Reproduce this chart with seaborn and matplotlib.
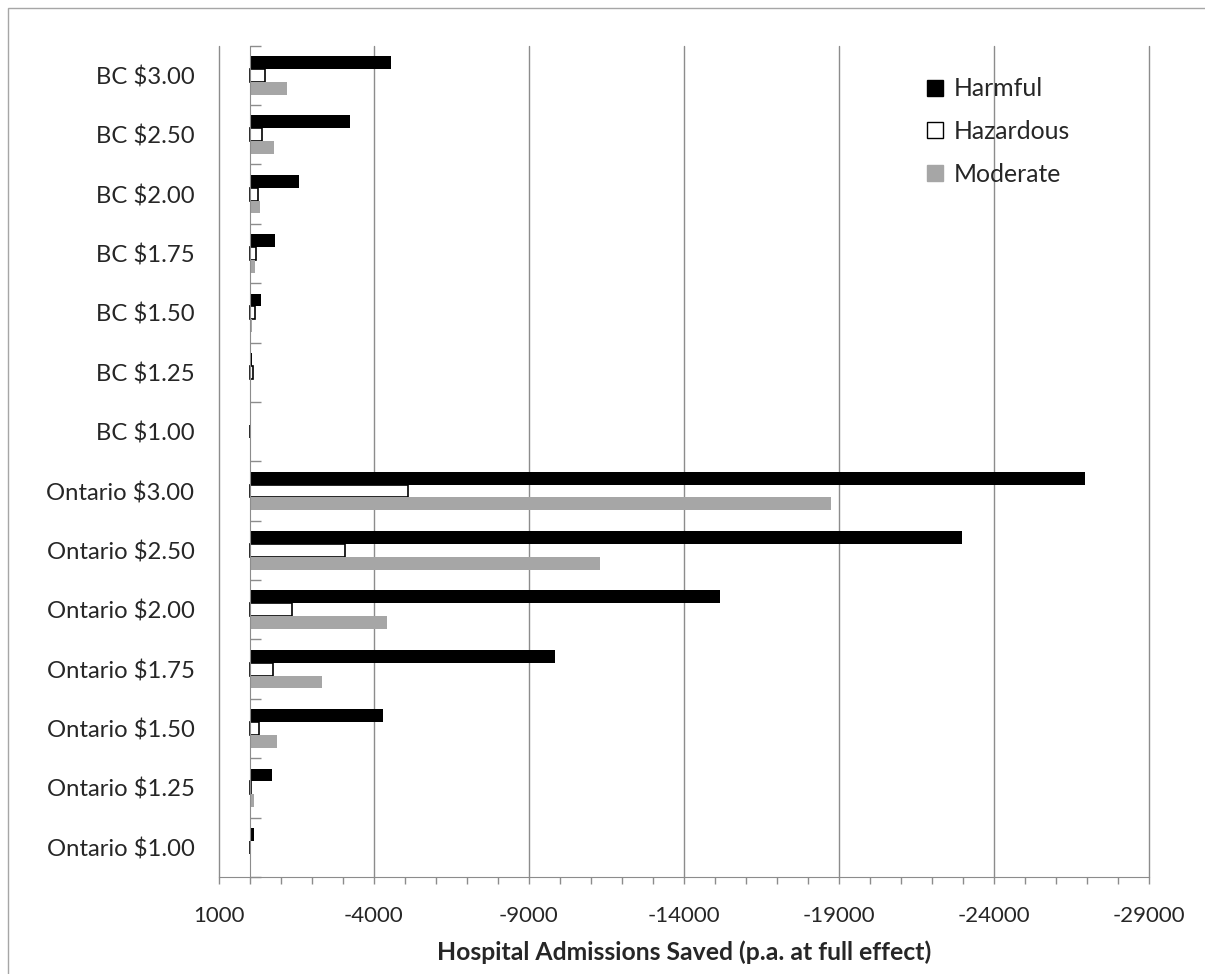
import numpy as np
import pandas as pd
import matplotlib
matplotlib.use("Agg")
import matplotlib.pyplot as plt
from matplotlib.lines import Line2D
from matplotlib.patches import Rectangle
import seaborn as sns

# Datos (admisiones hospitalarias evitadas por año)
categories = ["BC $3.00", "BC $2.50", "BC $2.00", "BC $1.75", "BC $1.50", "BC $1.25", "BC $1.00",
              "Ontario $3.00", "Ontario $2.50", "Ontario $2.00", "Ontario $1.75", "Ontario $1.50",
              "Ontario $1.25", "Ontario $1.00"]
harmful = [-4560, -3215, -1581, -806, -344, -65, -43,
           -26945, -22957, -15151, -9828, -4290, -720, -118]
hazardous = [-484, -398, -247, -204, -172, -108, -10,
             -5108, -3054, -1366, -742, -280, -43, -10]
moderate = [-1194, -763, -333, -161, -65, -10, 0,
            -18732, -11300, -4408, -2333, -882, -118, 0]
series_names = ["Harmful", "Hazardous", "Moderate"]
x_ticks = [1000, -4000, -9000, -14000, -19000, -24000, -29000]

df = pd.DataFrame({
    "Category": categories * 3,
    "Value": harmful + hazardous + moderate,
    "Series": np.repeat(series_names, len(categories)),
})

colors = {"Harmful": "#000000", "Hazardous": "#ffffff", "Moderate": "#a6a6a6"}
grid_gray = "#8c8c8c"

sns.set_style("white")
plt.rcParams["font.family"] = ["Lato", "DejaVu Sans"]

fig = plt.figure(figsize=(12.05, 9.74), dpi=100)
ax = fig.add_axes([0.1817, 0.0996, 0.7718, 0.8535])

sns.barplot(data=df, y="Category", x="Value", hue="Series", order=categories,
            hue_order=series_names, palette=colors, orient="h", width=0.65,
            dodge=True, legend=False, ax=ax, linewidth=0)

# Borde negro para Hazardous
for i, cont in enumerate(ax.containers):
    for p in cont:
        if series_names[i] == "Hazardous":
            p.set_edgecolor("#000000")
            p.set_linewidth(1.2)
        else:
            p.set_linewidth(0)

ax.set_xlim(1000, -29000)
ax.set_ylim(len(categories) - 0.5, -0.5)
ax.set_xticks(x_ticks)
ax.set_xticklabels([str(t) for t in x_ticks], fontsize=16)
ax.set_xticks(np.arange(1000, -29001, -1000), minor=True)
ax.xaxis.grid(True, which="major", color=grid_gray, linewidth=1)
for gl in ax.get_xgridlines():
    gl.set_clip_on(False)
ax.set_axisbelow(True)

# Eje vertical en cero con marcas entre categorias
ax.spines["left"].set_position(("data", 0))
ax.spines["left"].set_color(grid_gray)
ax.spines["bottom"].set_color(grid_gray)
ax.spines["top"].set_visible(False)
ax.spines["right"].set_visible(False)
ax.set_yticks(np.arange(len(categories)))
ax.set_yticklabels(categories, fontsize=17.2)
ax.set_yticks(np.arange(-0.5, len(categories)), minor=True)
ax.tick_params(axis="y", which="major", length=0, pad=40)
ax.tick_params(axis="y", which="minor", left=True, direction="in", length=8,
               color=grid_gray, width=1)
ax.tick_params(axis="x", which="both", bottom=True, direction="out", length=5,
               color=grid_gray, width=1, pad=16)

ax.set_ylabel("")
ax.set_xlabel("Hospital Admissions Saved (p.a. at full effect)", fontsize=17.8,
              fontweight="bold", labelpad=10)

handles = [Line2D([0], [0], marker="s", linestyle="", markersize=11,
                  markerfacecolor=colors[s],
                  markeredgecolor="#000000" if s != "Moderate" else colors[s],
                  markeredgewidth=1) for s in series_names]
ax.legend(handles, series_names, loc="upper left", bbox_to_anchor=(0.749, 0.974),
          frameon=False, fontsize=17.8, handlelength=0.8, handletextpad=0.35,
          labelspacing=0.8, borderaxespad=0)

fig.patches.append(Rectangle((8 / 1205, -0.01), 1.0, 1 - 8 / 974 + 0.01,
                             transform=fig.transFigure, fill=False,
                             edgecolor="#a6a6a6", linewidth=1))

fig.savefig("out.png", dpi=100)
